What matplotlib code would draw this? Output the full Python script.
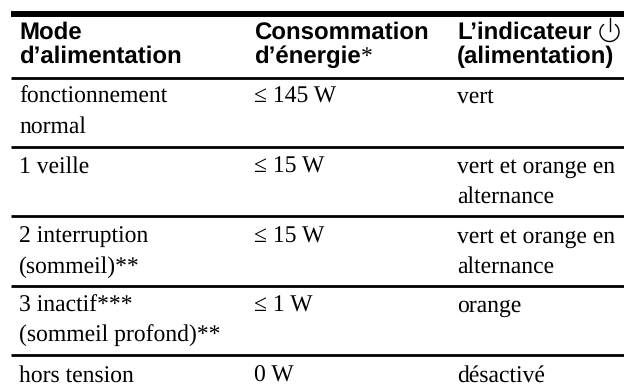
import matplotlib
matplotlib.use("Agg")
import matplotlib.pyplot as plt
from matplotlib.patches import Arc

plt.rcParams['font.family'] = ['Liberation Serif', 'DejaVu Serif']
plt.rcParams['text.hinting'] = 'none'

headers = [["Mode", "d\u2019alimentation"],
           ["Consommation", "d\u2019\u00e9nergie"],
           ["L\u2019indicateur", "(alimentation)"]]
rows = [
    [["fonctionnement", "normal"], ["\u2264 145 W"], ["vert"]],
    [["1 veille"], ["\u2264 15 W"], ["vert et orange en", "alternance"]],
    [["2 interruption", "(sommeil)**"], ["\u2264 15 W"], ["vert et orange en", "alternance"]],
    [["3 inactif***", "(sommeil profond)**"], ["\u2264 1 W"], ["orange"]],
    [["hors tension"], ["0 W"], ["d\u00e9sactiv\u00e9"]],
]

# layout, in pixels of the 624x390 picture
col_x = [19, 254, 457]
row_base = [103, 173, 243, 312, 382]
rule_y = [78, 147, 216, 286, 355]

fig = plt.figure(figsize=(6.24, 3.90), dpi=100)
ax = fig.add_axes([0, 0, 1, 1])
ax.set_xlim(0, 624)
ax.set_ylim(390, 0)
ax.axis('off')

for x, lines in zip(col_x, headers):
    for i, s in enumerate(lines):
        ax.text(x, 39 + i*24, s, fontsize=17.3, fontweight='bold',
                family='Liberation Sans', va='baseline')
ax.text(361, 63, "*", fontsize=17, va='baseline')

for base, row in zip(row_base, rows):
    for x, lines in zip(col_x, row):
        for i, s in enumerate(lines):
            ax.text(x, base + i*30, s, fontsize=17, va='baseline')

ax.plot([11, 624], [14, 14], color='black', lw=4.3, solid_capstyle='butt')
for y in rule_y:
    ax.plot([11, 624], [y, y], color='black', lw=2.0, solid_capstyle='butt')

# power symbol next to the third header
ax.add_patch(Arc((609.5, 32), 19, 19, theta1=-55, theta2=235, color='black', lw=1.0))
ax.plot([609.5, 609.5], [18, 31], color='black', lw=1.0)

fig.savefig("out.png", dpi=100)
